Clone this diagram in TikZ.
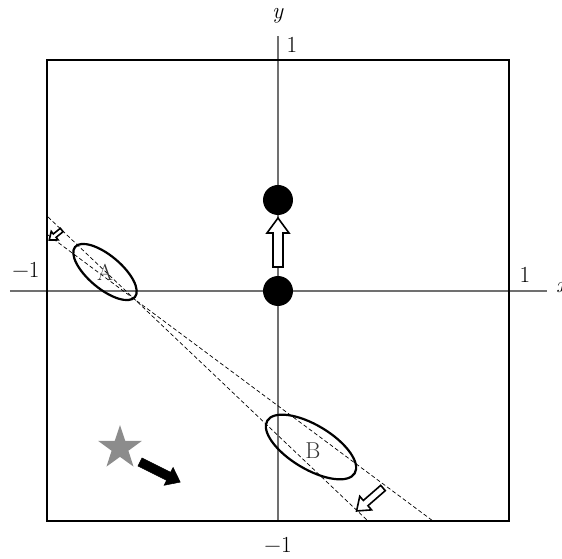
\documentclass[tikz,border=0pt]{standalone}
\usetikzlibrary{shapes.geometric}
\definecolor{axisgray}{HTML}{707070}
\definecolor{stargray}{HTML}{8C8C8C}
\newcommand\blockarrow[8]{\draw[#1,shift={(#2,#3)},rotate=#4] (0,-#6) -- ({#5-#8},-#6) -- ({#5-#8},-#7) -- (#5,0) -- ({#5-#8},#7) -- ({#5-#8},#6) -- (0,#6) -- cycle;}
\begin{document}
\begin{tikzpicture}[x=1pt,y=1pt,
  axisline/.style={draw=axisgray,line width=1.2pt},
  frame/.style={draw=black,line width=2.5pt},
  guide/.style={draw=black,line width=0.7pt,dash pattern=on 4pt off 2.5pt},
  blob/.style={ellipse,draw=black,line width=2.2pt,inner sep=0pt},
  dot/.style={circle,fill=black,minimum size=30pt,inner sep=0pt},
  hollow/.style={draw=black,fill=white,line width=1.6pt,line join=miter},
  solid/.style={draw=black,fill=black,line width=0.5pt,line join=miter},
  lab/.style={font=\fontsize{23}{27}\selectfont,inner sep=0pt,text=black}]
\useasboundingbox (-278,-268) rectangle (284,291);
% axes
\coordinate (xl) at (-268,0); \coordinate (xr) at (269,0);
\coordinate (yb) at (0,-230); \coordinate (yt) at (0,255);
\draw[axisline] (xl) -- (xr);
\draw[axisline] (yb) -- (yt);
% frame
\draw[frame] (-231,-230) rectangle (231,231);
% dashed guide lines
\coordinate (a1) at (-230,74); \coordinate (a2) at (90,-230);
\coordinate (b1) at (-230,56); \coordinate (b2) at (155,-230);
\draw[guide] (a1) -- (a2);
\draw[guide] (b1) -- (b2);
% ellipses
\node[blob,minimum width=78pt,minimum height=33pt,rotate=-40] (A) at (-173,19) {};
\node[lab,text=black!80] (Alab) at (-173,19) {A};
\node[blob,minimum width=102pt,minimum height=44pt,rotate=-31] (B) at (33,-156) {};
\node[lab,text=black!80] (Blab) at (35,-160) {B};
% dots
\node[dot] (p0) at (0,0) {};
\node[dot] (p1) at (0,91) {};
% arrows
\blockarrow{hollow}{0}{24}{90}{49}{5}{11}{15}
\blockarrow{hollow}{-216.3}{61}{219}{16}{2.2}{5.5}{7}
\blockarrow{hollow}{105}{-197}{221}{35}{3.5}{9}{12}
\blockarrow{solid}{-138}{-171}{-26.6}{45}{4.5}{10}{13}
% star
\node[star,star points=5,star point ratio=2.6,minimum size=46pt,inner sep=0pt,fill=stargray] (s) at (-158,-157) {};
% labels
\node[lab] (ylab) at (0,275) {\textit{y}};
\node[lab] (y1) at (14,246) {1};
\node[lab] (xm1) at (-252,21) {\textminus 1};
\node[lab] (x1) at (247,16) {1};
\node[lab,anchor=west] (xlab) at (278,3) {\textit{x}};
\node[lab] (ym1) at (0,-254) {\textminus 1};
\end{tikzpicture}
\end{document}
